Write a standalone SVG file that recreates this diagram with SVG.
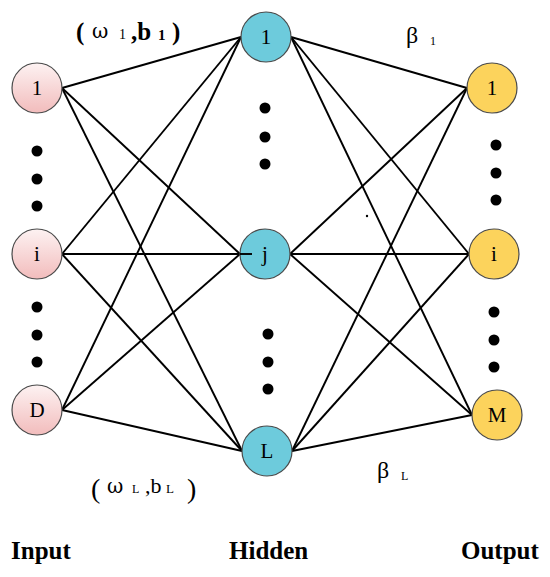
<svg xmlns="http://www.w3.org/2000/svg" width="550" height="577" viewBox="0 0 550 577">
<defs>
<linearGradient id="gIn" x1="0" y1="0" x2="0" y2="1">
<stop offset="0" stop-color="#fdf2f2"/>
<stop offset="1" stop-color="#f2bcbc"/>
</linearGradient>
<style>
.e{stroke:#000;stroke-width:1.9;fill:none}
.n{stroke:#4a4a4a;stroke-width:1.2}
.in{fill:url(#gIn)}
.hd{fill:#6dcbdc}
.out{fill:#fcd35c}
.t{font-family:"Liberation Serif","Times New Roman",serif;font-size:21px;text-anchor:middle;fill:#000}
.s{font-family:"Liberation Serif","Times New Roman",serif;fill:#000}
.g{font-family:"DejaVu Serif",serif}
.dot{fill:#000}
</style>
</defs>
<rect width="550" height="577" fill="#fff"/>
<g id="connectors">
<line class="e" x1="62" y1="88" x2="241" y2="37"/>
<line class="e" x1="62" y1="88" x2="240" y2="254"/>
<line class="e" x1="62" y1="88" x2="242" y2="451"/>
<line class="e" x1="62" y1="254" x2="241" y2="37"/>
<line class="e" x1="62" y1="254" x2="240" y2="254"/>
<line class="e" x1="62" y1="254" x2="242" y2="451"/>
<line class="e" x1="62" y1="410" x2="241" y2="37"/>
<line class="e" x1="62" y1="410" x2="240" y2="254"/>
<line class="e" x1="62" y1="410" x2="242" y2="451"/>
<line class="e" x1="291" y1="37" x2="467" y2="88"/>
<line class="e" x1="291" y1="37" x2="469" y2="254"/>
<line class="e" x1="291" y1="37" x2="472" y2="415"/>
<line class="e" x1="290" y1="254" x2="467" y2="88"/>
<line class="e" x1="290" y1="254" x2="469" y2="254"/>
<line class="e" x1="290" y1="254" x2="472" y2="415"/>
<line class="e" x1="292" y1="451" x2="467" y2="88"/>
<line class="e" x1="292" y1="451" x2="469" y2="254"/>
<line class="e" x1="292" y1="451" x2="472" y2="415"/>
</g>
<g id="input-1"><circle class="n in" cx="37" cy="88" r="25"/><text class="t" x="37" y="95">1</text></g>
<g id="input-i"><circle class="n in" cx="37" cy="254" r="25"/><text class="t" x="37" y="261">i</text></g>
<g id="input-D"><circle class="n in" cx="37" cy="410" r="25"/><text class="t" x="37" y="417">D</text></g>
<g id="hidden-1"><circle class="n hd" cx="266" cy="37" r="25"/><text class="t" x="266" y="44">1</text></g>
<g id="hidden-j"><circle class="n hd" cx="265" cy="254" r="25"/><line class="e" x1="240" y1="254" x2="252" y2="254"/><text class="t" x="265" y="261">j</text></g>
<g id="hidden-L"><circle class="n hd" cx="267" cy="451" r="25"/><text class="t" x="267" y="458">L</text></g>
<g id="output-1"><circle class="n out" cx="492" cy="88" r="25"/><text class="t" x="492" y="95">1</text></g>
<g id="output-i"><circle class="n out" cx="494" cy="254" r="25"/><text class="t" x="494" y="261">i</text></g>
<g id="output-M"><circle class="n out" cx="497" cy="415" r="25"/><text class="t" x="497" y="422">M</text></g>
<g id="dots">
<circle class="dot" cx="37" cy="151" r="5.5"/>
<circle class="dot" cx="37" cy="179" r="5.5"/>
<circle class="dot" cx="37" cy="206" r="5.5"/>
<circle class="dot" cx="37" cy="307" r="5.5"/>
<circle class="dot" cx="37" cy="335" r="5.5"/>
<circle class="dot" cx="37" cy="362" r="5.5"/>
<circle class="dot" cx="265" cy="108" r="5.5"/>
<circle class="dot" cx="265" cy="137" r="5.5"/>
<circle class="dot" cx="265" cy="164" r="5.5"/>
<circle class="dot" cx="268" cy="334" r="5.5"/>
<circle class="dot" cx="268" cy="362" r="5.5"/>
<circle class="dot" cx="268" cy="389" r="5.5"/>
<circle class="dot" cx="496" cy="145" r="5.5"/>
<circle class="dot" cx="496" cy="173" r="5.5"/>
<circle class="dot" cx="496" cy="200" r="5.5"/>
<circle class="dot" cx="494" cy="312" r="5.5"/>
<circle class="dot" cx="494" cy="340" r="5.5"/>
<circle class="dot" cx="494" cy="367" r="5.5"/>
<circle class="dot" cx="367" cy="216" r="1.2"/>
</g>
<g id="labels">
<text class="s" font-weight="bold"><tspan x="76" y="40" font-size="25">(</tspan><tspan class="g" x="92" y="38" font-size="20" font-weight="normal">ω</tspan><tspan x="119" y="39" font-size="14" font-weight="normal">1</tspan><tspan x="131" y="40" font-size="25">,b</tspan><tspan x="158" y="40" font-size="15">1</tspan><tspan x="172" y="40" font-size="25">)</tspan></text>
<text class="s"><tspan x="91" y="498" font-size="28">(</tspan><tspan class="g" x="107" y="493" font-size="20">ω</tspan><tspan x="132" y="493" font-size="12">L</tspan><tspan x="145" y="493" font-size="22">,b</tspan><tspan x="166" y="493" font-size="13">L</tspan><tspan x="187" y="498" font-size="28">)</tspan></text>
<text class="s"><tspan x="406" y="43" font-size="24">β</tspan><tspan x="430" y="45" font-size="12">1</tspan></text>
<text class="s"><tspan x="377" y="478" font-size="24">β</tspan><tspan x="401" y="480" font-size="12">L</tspan></text>
<text class="s" x="11" y="559" font-size="25" font-weight="bold">Input</text>
<text class="s" x="229" y="559" font-size="25" font-weight="bold">Hidden</text>
<text class="s" x="461" y="559" font-size="25" font-weight="bold">Output</text>
</g>
</svg>
